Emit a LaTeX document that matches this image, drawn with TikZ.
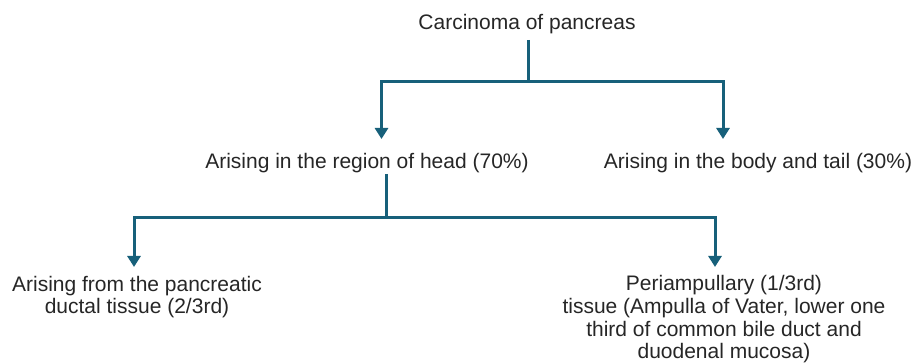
\documentclass[tikz,border=0pt]{standalone}
\usepackage{tikz}
\usetikzlibrary{arrows.meta,positioning,calc}
\usepackage{xcolor}
\usepackage{fontspec}
\setmainfont{Liberation Sans}
\definecolor{linkblue}{HTML}{17607A}
\definecolor{dark}{HTML}{262626}
\tikzset{
  txt/.style={text=dark, align=center, inner sep=0pt, anchor=base, font=\fontsize{21}{22.8}\selectfont},
  arrow/.style={-{Triangle[length=11pt,width=13pt]}, line width=3pt, draw=linkblue},
  branch/.style={line width=3pt, draw=linkblue}
}

\begin{document}
\begin{tikzpicture}[x=1pt, y=-1pt]
  \useasboundingbox (0,0) rectangle (913,363);
  \node[txt] (carcinoma) at (527,30) {Carcinoma of pancreas};
  \node[txt] (head) at (367,169) {Arising in the region of head (70\%)};
  \node[txt] (tail) at (758,169) {Arising in the body and tail (30\%)};
  \node[txt] (ductal) at (137,314) {Arising from the pancreatic\\ductal tissue (2/3rd)};
  \node[txt] (peri) at (724,359) {Periampullary (1/3rd)\\tissue (Ampulla of Vater, lower one\\third of common bile duct and\\duodenal mucosa)};
  \coordinate (split1) at (528,81.5);
  \coordinate (split2) at (386.5,218);
  % first level
  \draw[branch] ([yshift=-10pt]carcinoma.base -| split1) -- (split1);
  \draw[arrow] (split1) -| ([xshift=14.5pt, yshift=30pt]head.base);
  \draw[arrow] (split1) -| ([xshift=-35pt, yshift=30pt]tail.base);
  % second level
  \draw[branch] ([yshift=-5pt]head.base -| split2) -- (split2);
  \draw[arrow] (split2) -| ([xshift=-3pt, yshift=47pt]ductal.base);
  \draw[arrow] (split2) -| ([xshift=-9pt, yshift=92pt]peri.base);
\end{tikzpicture}
\end{document}
